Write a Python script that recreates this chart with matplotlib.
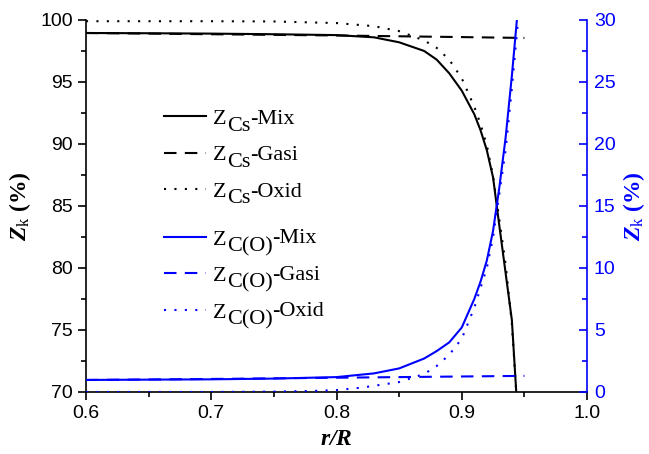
import matplotlib
matplotlib.use("Agg")
import matplotlib.pyplot as plt
from matplotlib.ticker import MultipleLocator

plt.rcParams['font.family'] = 'Liberation Sans'
plt.rcParams['mathtext.fontset'] = 'custom'
plt.rcParams['mathtext.rm'] = 'Liberation Serif'
plt.rcParams['mathtext.it'] = 'Liberation Serif:italic'
plt.rcParams['mathtext.bf'] = 'Liberation Serif:bold'
plt.rcParams['mathtext.bfit'] = 'Liberation Serif:italic:bold'

# --- data ---
# Cs (left axis)
x_cs_mix = [0.6, 0.65, 0.7, 0.75, 0.8, 0.83, 0.85, 0.87, 0.88, 0.89, 0.9, 0.91,
            0.915, 0.92, 0.925, 0.93, 0.935, 0.94, 0.9435]
y_cs_mix = [98.95, 98.93, 98.9, 98.85, 98.78, 98.6, 98.2, 97.5, 96.8, 95.7, 94.3, 92.4,
            91.1, 89.5, 87.3, 83.4, 79.6, 75.8, 70.0]

x_cs_gasi = [0.6, 0.7, 0.8, 0.9, 0.95]
y_cs_gasi = [98.95, 98.85, 98.75, 98.62, 98.55]

x_cs_oxid = [0.6, 0.7, 0.75, 0.8, 0.83, 0.85, 0.87, 0.88, 0.89, 0.9, 0.91,
             0.915, 0.92, 0.925, 0.93, 0.935, 0.94, 0.9435]
y_cs_oxid = [99.9, 99.9, 99.88, 99.75, 99.5, 99.1, 98.35, 97.75, 96.8, 95.3, 93.0,
             91.6, 89.9, 87.4, 83.9, 80.3, 75.5, 70.0]

# C(O) (right axis)
x_co_mix = [0.6, 0.7, 0.75, 0.8, 0.83, 0.85, 0.87, 0.88, 0.89, 0.9, 0.91,
            0.915, 0.92, 0.925, 0.93, 0.935, 0.94, 0.944]
y_co_mix = [0.97, 1.02, 1.08, 1.2, 1.5, 1.9, 2.7, 3.3, 4.0, 5.2, 7.5,
            8.9, 10.6, 13.0, 16.5, 20.5, 25.5, 30.0]

x_co_gasi = [0.6, 0.7, 0.8, 0.9, 0.95]
y_co_gasi = [0.97, 1.05, 1.15, 1.25, 1.3]

x_co_oxid = [0.6, 0.7, 0.75, 0.78, 0.8, 0.82, 0.85, 0.87, 0.88, 0.89, 0.9, 0.91,
             0.92, 0.925, 0.93, 0.935, 0.94, 0.945]
y_co_oxid = [0.0, 0.0, 0.03, 0.08, 0.15, 0.35, 0.8, 1.45, 2.1, 3.0, 4.3, 6.8,
             10.0, 12.5, 16.0, 19.5, 24.5, 30.0]

# legend pieces: Z + subscript + suffix
suffixes = ['-Mix', '-Gasi', '-Oxid']

blue = '#0000ff'
lw = 1.5
dash = (0, (6, 4))
dot = (0, (1, 4))
serif = 'Liberation Serif'
leg_size = 16

fig = plt.figure(figsize=(6.49, 4.54), dpi=100)
ax = fig.add_axes([0.1325, 0.1366, 0.772, 0.8194])
ax2 = ax.twinx()

l1, = ax.plot(x_cs_mix, y_cs_mix, color='black', lw=lw)
l2, = ax.plot(x_cs_gasi, y_cs_gasi, color='black', lw=lw, linestyle=dash)
l3, = ax.plot(x_cs_oxid, y_cs_oxid, color='black', lw=lw, linestyle=dot)
l4, = ax2.plot(x_co_mix, y_co_mix, color=blue, lw=lw)
l5, = ax2.plot(x_co_gasi, y_co_gasi, color=blue, lw=lw, linestyle=dash)
l6, = ax2.plot(x_co_oxid, y_co_oxid, color=blue, lw=lw, linestyle=dot)

ax.set_xlim(0.6, 1.0)
ax.set_ylim(70, 100)
ax2.set_ylim(0, 30)

ax.xaxis.set_major_locator(MultipleLocator(0.1))
ax.xaxis.set_minor_locator(MultipleLocator(0.05))
ax.yaxis.set_major_locator(MultipleLocator(5))
ax.yaxis.set_minor_locator(MultipleLocator(2.5))
ax2.yaxis.set_major_locator(MultipleLocator(5))
ax2.yaxis.set_minor_locator(MultipleLocator(2.5))

for a in (ax, ax2):
    a.spines['top'].set_visible(False)
    for s in a.spines.values():
        s.set_linewidth(1.2)
ax.spines['right'].set_visible(False)
ax2.spines['left'].set_visible(False)
ax2.spines['bottom'].set_visible(False)
ax2.spines['right'].set_color(blue)

ax.tick_params(axis='both', which='major', direction='out', length=6, width=1.2, labelsize=14)
ax.tick_params(axis='both', which='minor', direction='out', length=3.5, width=1.2)
ax2.tick_params(axis='y', which='major', direction='in', length=6, width=1.2,
                labelsize=14, colors=blue, pad=5)
ax2.tick_params(axis='y', which='minor', direction='in', length=3.5, width=1.2, colors=blue)

ax.set_xlabel(r'$\mathbfit{r/R}$', fontsize=17, labelpad=4.5)
ax.set_ylabel(r'$\mathbfit{Z}_{\mathrm{k}}$ (%)', fontsize=17, family=serif,
              fontweight='bold', labelpad=5)
ax2.set_ylabel(r'$\mathbfit{Z}_{\mathrm{k}}$ (%)', fontsize=17, family=serif,
               fontweight='bold', color=blue, labelpad=4)

leg_kw = dict(loc='upper left', frameon=False, borderpad=0,
              prop={'family': serif, 'size': leg_size},
              handlelength=1.9, handletextpad=0.3, labelspacing=0.71)
leg1 = ax.legend(handles=[l1, l2, l3], labels=['Z'] * 3,
                 bbox_to_anchor=(0.134, 0.792), **leg_kw)
ax.add_artist(leg1)
leg2 = ax.legend(handles=[l4, l5, l6], labels=['Z'] * 3,
                 bbox_to_anchor=(0.134, 0.467), **leg_kw)


# Origin-style big subscripts, chained after each "Z" (drawn after the legends)
def add_sub(leg, sub, lift):
    for t, suf in zip(leg.get_texts(), suffixes):
        s = ax.annotate(sub, xy=(1, 0), xycoords=t, xytext=(0, -4.8),
                        textcoords='offset points', ha='left', va='bottom',
                        family=serif, fontsize=leg_size, zorder=10)
        ax.annotate(suf, xy=(1, 0), xycoords=s, xytext=(0, 4.8 + lift),
                    textcoords='offset points', ha='left', va='bottom',
                    family=serif, fontsize=leg_size, zorder=10)


add_sub(leg1, 'Cs', 0)
add_sub(leg2, 'C(O)', 1.2)

fig.savefig('out.png', dpi=100)
